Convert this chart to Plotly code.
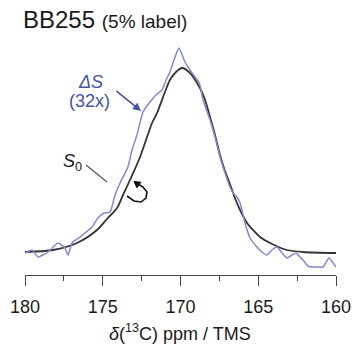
import plotly.graph_objects as go

# S0 (black) spectrum: chemical shift (ppm) and intensity (a.u.)
s0_ppm = [180.00, 178.20, 176.66, 175.37, 174.73, 174.08, 173.70, 173.25, 172.60, 171.83,
          171.51, 171.00, 170.68, 170.29, 169.90, 169.39, 168.75, 168.42, 168.10, 167.78,
          167.46, 167.14, 166.82, 166.50, 166.17, 165.72, 165.34, 164.89, 164.24, 163.15,
          162.12, 160.00]
s0_int = [23, 25, 32, 45, 56, 67, 80, 95, 118, 152,
          162, 183, 195, 203, 207, 202, 187, 175, 158, 140,
          120, 104, 91, 77, 65, 52, 45, 38, 32, 25,
          23, 22]

# Delta S (blue, 32x) spectrum
ds_ppm = [180.00, 179.55, 179.16, 178.52, 177.88, 177.43, 177.23, 176.98, 176.46, 175.69,
          175.31, 174.92, 174.53, 174.21, 173.89, 173.38, 173.12, 172.80, 172.41, 171.96,
          171.58, 171.19, 170.93, 170.68, 170.35, 170.10, 169.71, 169.39, 169.07, 168.87,
          168.75, 168.55, 168.10, 167.78, 167.46, 167.07, 166.82, 166.62, 166.37, 166.17,
          165.85, 165.53, 165.08, 164.76, 164.44, 164.12, 163.79, 163.47, 163.15, 162.83,
          162.57, 162.32, 162.12, 161.80, 161.48, 161.16, 160.84, 160.45, 160.19, 160.00]
ds_int = [22, 25, 18, 23, 32, 27, 20, 32, 38, 48,
          57, 62, 63, 80, 92, 108, 125, 140, 163, 173,
          180, 185, 195, 203, 218, 227, 213, 205, 198, 194,
          190, 175, 155, 138, 118, 99, 88, 82, 78, 72,
          52, 37, 28, 23, 20, 25, 28, 22, 17, 20,
          22, 18, 15, 9, 8, 8, 8, 17, 12, 8]

tick_vals = [180, 175, 170, 165, 160]
tick_text = ["180", "175", "170", "165", "160"]

BLUE_LINE = "#8289cc"
BLUE_TEXT = "#4452a6"
BLACK = "#333333"
FONT = "Liberation Sans, Arial, sans-serif"

fig = go.Figure()
fig.add_trace(go.Scatter(x=s0_ppm, y=s0_int, mode="lines",
                         line=dict(color=BLACK, width=1.8, shape="spline", smoothing=0.8),
                         hoverinfo="skip", showlegend=False))
fig.add_trace(go.Scatter(x=ds_ppm, y=ds_int, mode="lines",
                         line=dict(color=BLUE_LINE, width=1.5, shape="spline", smoothing=0.5),
                         hoverinfo="skip", showlegend=False))

fig.update_layout(
    width=354, height=345,
    margin=dict(l=25, r=18, t=30, b=70, autoexpand=False),
    plot_bgcolor="white", paper_bgcolor="white",
    font=dict(family=FONT, color="#1a1a1a"),
    xaxis=dict(range=[180, 160], showgrid=False, zeroline=False, automargin=False,
               showline=True, linecolor="#444", linewidth=1.2,
               ticks="outside", ticklen=10, tickwidth=1.2, tickcolor="#444",
               tickvals=tick_vals, ticktext=tick_text, ticklabelstandoff=5,
               tickfont=dict(size=18, color="#1a1a1a", family=FONT),
               minor=dict(dtick=2.5, ticks="outside", ticklen=5, tickwidth=1.2, tickcolor="#444")),
    yaxis=dict(range=[0, 245], visible=False, automargin=False),
)

def px2ppm(px):
    return 180 - (px - 25) / 15.55

def py2h(py):
    return 275 - py

# Title
fig.add_annotation(xref="paper", yref="paper", x=(21 - 25) / 311, y=(275 - 20) / 245,
                   xanchor="left", yanchor="middle", showarrow=False,
                   text="BB255 <span style='font-size:19px'>(5% label)</span>",
                   font=dict(size=24, color="#1a1a1a", family=FONT))

# X axis title
fig.add_annotation(xref="paper", yref="paper", x=(180 - 25) / 311, y=(275 - 332) / 245,
                   xanchor="center", yanchor="middle", showarrow=False,
                   text="<i>δ</i>(<sup>13</sup>C) ppm / TMS",
                   font=dict(size=18, color="#1a1a1a", family=FONT))

# Delta S label
fig.add_annotation(x=px2ppm(90), y=py2h(82), showarrow=False,
                   text="<i>ΔS</i>", font=dict(size=18, color=BLUE_TEXT, family=FONT))
fig.add_annotation(x=px2ppm(89), y=py2h(101), showarrow=False,
                   text="(32x)", font=dict(size=18, color=BLUE_TEXT, family=FONT))
fig.add_annotation(x=px2ppm(141), y=py2h(111), ax=-26, ay=-21, text="",
                   showarrow=True, arrowhead=2, arrowsize=1, arrowwidth=1.6,
                   arrowcolor=BLUE_TEXT)

# S0 label and leader line
fig.add_annotation(x=px2ppm(61), y=py2h(162), xanchor="left", yanchor="middle", showarrow=False,
                   text="<i>S</i><sub>0</sub>", font=dict(size=18, color="#1a1a1a", family=FONT))
fig.add_shape(type="line", x0=px2ppm(86), y0=py2h(165), x1=px2ppm(107), y1=py2h(182),
              line=dict(color="#555", width=1.2))

# Curved arrow
pts = [(127, 196), (134, 201), (141, 202), (146, 198), (147, 192), (143, 187), (138, 184)]
path = "M " + " L ".join(f"{px2ppm(a):.4f},{py2h(b):.2f}" for a, b in pts)
fig.add_shape(type="path", path=path, line=dict(color="#111", width=1.6))
head = [(134, 181.5), (140.9, 182.2), (136.9, 187.8)]
hpath = "M " + " L ".join(f"{px2ppm(a):.4f},{py2h(b):.2f}" for a, b in head) + " Z"
fig.add_shape(type="path", path=hpath, fillcolor="#111", line=dict(color="#111", width=1))

fig.write_html("out.html")
